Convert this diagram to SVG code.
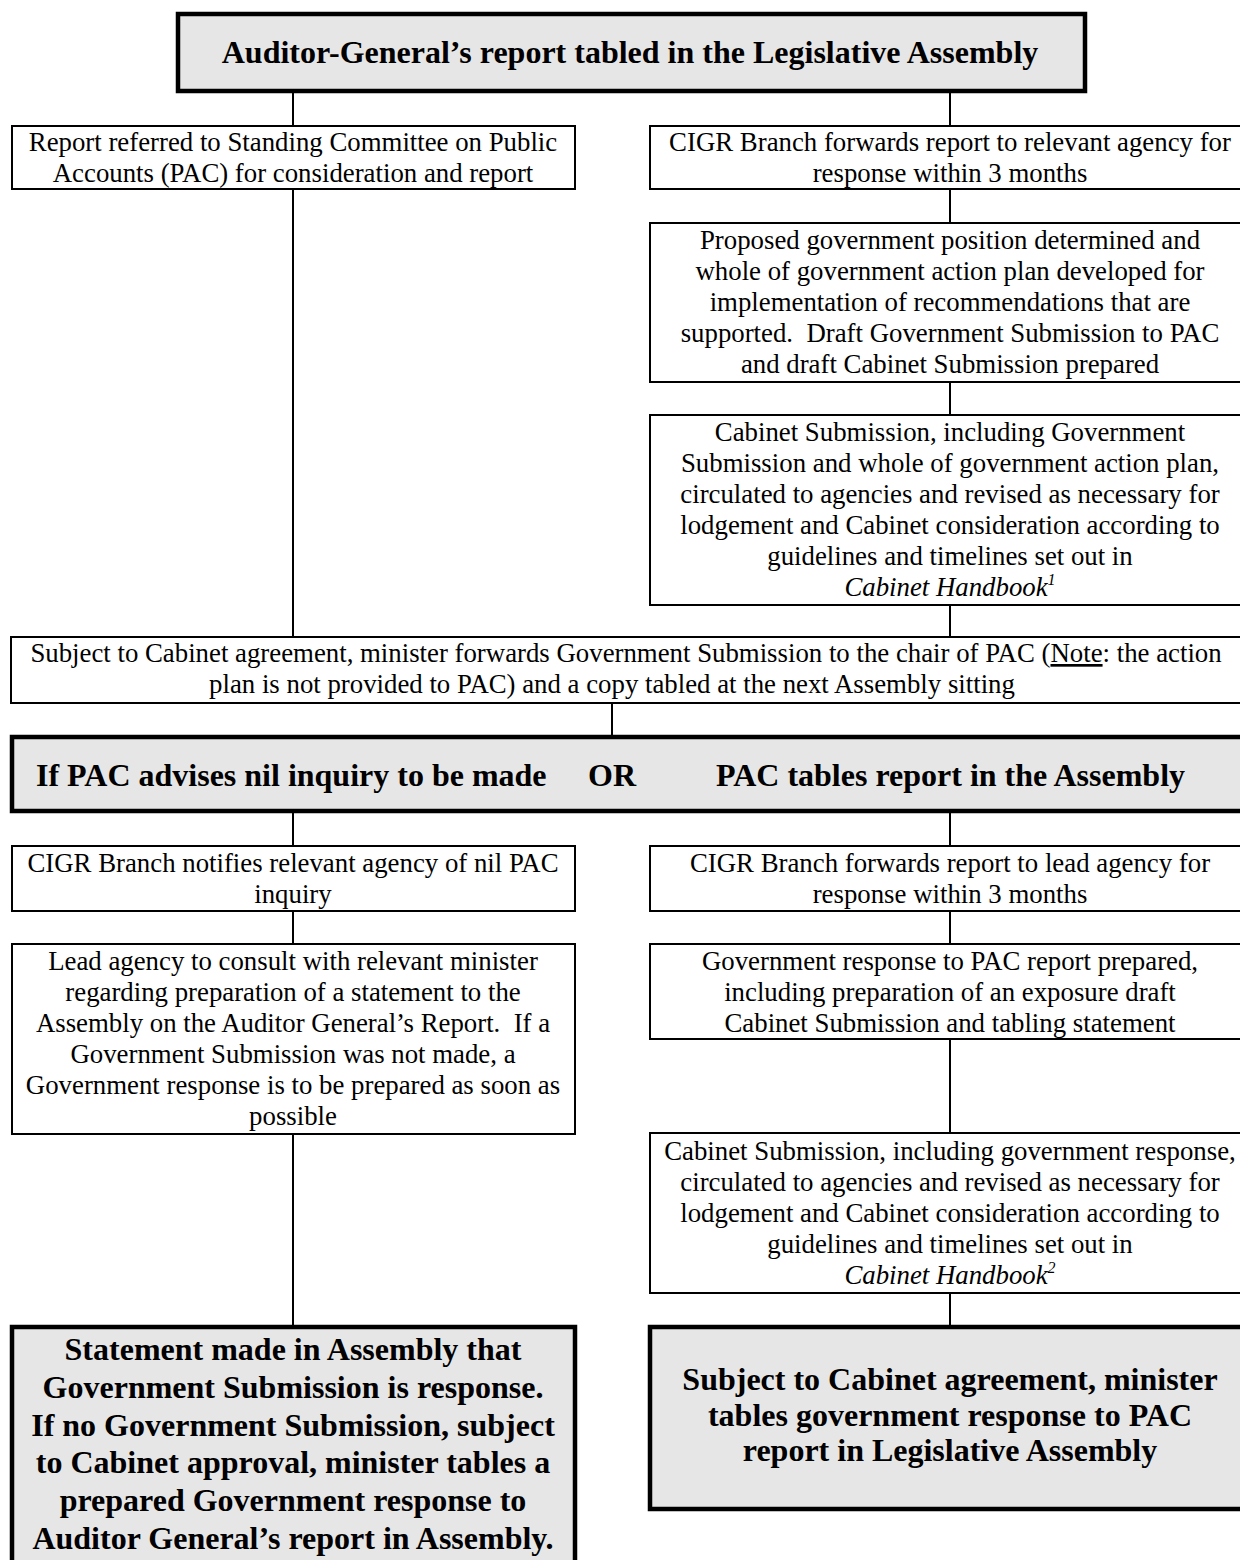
<svg xmlns="http://www.w3.org/2000/svg" width="1240" height="1560" viewBox="0 0 1240 1560">
<style>
.box{fill:#fff;stroke:#000;stroke-width:2}
.hbox{fill:#e6e6e6;stroke:#000;stroke-width:4.5}
.t{font-family:"Liberation Serif","Times New Roman",serif;font-size:26.8px;text-anchor:middle;fill:#000}
.b{font-weight:bold;font-size:32px}
.b2{font-weight:bold;font-size:32px}
.or{font-weight:bold;font-size:32px;text-anchor:start}
.i{font-style:italic}
.conn line{stroke:#000;stroke-width:2}
</style>
<rect width="1240" height="1560" fill="#fff"/>
<g class="conn" id="connectors">
<line x1="293" y1="91" x2="293" y2="126"/>
<line x1="950" y1="91" x2="950" y2="126"/>
<line x1="950" y1="189" x2="950" y2="223"/>
<line x1="950" y1="382" x2="950" y2="415"/>
<line x1="293" y1="189" x2="293" y2="637"/>
<line x1="950" y1="605" x2="950" y2="637"/>
<line x1="612" y1="703" x2="612" y2="737"/>
<line x1="293" y1="811" x2="293" y2="846"/>
<line x1="950" y1="811" x2="950" y2="846"/>
<line x1="293" y1="911" x2="293" y2="944"/>
<line x1="950" y1="911" x2="950" y2="944"/>
<line x1="950" y1="1039" x2="950" y2="1133"/>
<line x1="293" y1="1134" x2="293" y2="1327"/>
<line x1="950" y1="1293" x2="950" y2="1327"/>
</g>
<g id="n_top">
<rect class="hbox" x="178" y="14" width="907" height="77"/>
<text class="t b" x="630" y="63">Auditor-General’s report tabled in the Legislative Assembly</text>
</g>
<g id="n_pac_ref">
<rect class="box" x="12" y="126" width="563" height="63"/>
<text class="t" x="293" y="151">Report referred to Standing Committee on Public</text>
<text class="t" x="293" y="182">Accounts (PAC) for consideration and report</text>
</g>
<g id="n_cigr1">
<rect class="box" x="650" y="126" width="600" height="63"/>
<text class="t" x="950" y="151">CIGR Branch forwards report to relevant agency for</text>
<text class="t" x="950" y="182">response within 3 months</text>
</g>
<g id="n_position">
<rect class="box" x="650" y="223" width="600" height="159"/>
<text class="t" x="950" y="249">Proposed government position determined and</text>
<text class="t" x="950" y="280">whole of government action plan developed for</text>
<text class="t" x="950" y="311">implementation of recommendations that are</text>
<text class="t" x="950" y="342" xml:space="preserve">supported.  Draft Government Submission to PAC</text>
<text class="t" x="950" y="373">and draft Cabinet Submission prepared</text>
</g>
<g id="n_cabinet1">
<rect class="box" x="650" y="415" width="600" height="190"/>
<text class="t" x="950" y="441">Cabinet Submission, including Government</text>
<text class="t" x="950" y="472">Submission and whole of government action plan,</text>
<text class="t" x="950" y="503">circulated to agencies and revised as necessary for</text>
<text class="t" x="950" y="534">lodgement and Cabinet consideration according to</text>
<text class="t" x="950" y="565">guidelines and timelines set out in</text>
<text class="t i" x="950" y="596">Cabinet Handbook<tspan font-size="16" dy="-11">1</tspan></text>
</g>
<g id="n_forward">
<rect class="box" x="11" y="637" width="1240" height="66"/>
<text class="t" x="626" y="662">Subject to Cabinet agreement, minister forwards Government Submission to the chair of PAC (<tspan text-decoration="underline">Note</tspan>: the action</text>
<text class="t" x="612" y="693">plan is not provided to PAC) and a copy tabled at the next Assembly sitting</text>
</g>
<g id="n_or">
<rect class="hbox" x="12" y="737" width="1240" height="74"/>
<text class="t or" x="36" y="786">If PAC advises nil inquiry to be made</text>
<text class="t or" x="588" y="786">OR</text>
<text class="t or" x="716" y="786">PAC tables report in the Assembly</text>
</g>
<g id="n_nil">
<rect class="box" x="12" y="846" width="563" height="65"/>
<text class="t" x="293" y="872">CIGR Branch notifies relevant agency of nil PAC</text>
<text class="t" x="293" y="903">inquiry</text>
</g>
<g id="n_cigr2">
<rect class="box" x="650" y="846" width="600" height="65"/>
<text class="t" x="950" y="872">CIGR Branch forwards report to lead agency for</text>
<text class="t" x="950" y="903">response within 3 months</text>
</g>
<g id="n_lead">
<rect class="box" x="12" y="944" width="563" height="190"/>
<text class="t" x="293" y="970">Lead agency to consult with relevant minister</text>
<text class="t" x="293" y="1001">regarding preparation of a statement to the</text>
<text class="t" x="293" y="1032" xml:space="preserve">Assembly on the Auditor General’s Report.  If a</text>
<text class="t" x="293" y="1063">Government Submission was not made, a</text>
<text class="t" x="293" y="1094">Government response is to be prepared as soon as</text>
<text class="t" x="293" y="1125">possible</text>
</g>
<g id="n_gov_resp">
<rect class="box" x="650" y="944" width="600" height="95"/>
<text class="t" x="950" y="970">Government response to PAC report prepared,</text>
<text class="t" x="950" y="1001">including preparation of an exposure draft</text>
<text class="t" x="950" y="1032">Cabinet Submission and tabling statement</text>
</g>
<g id="n_cabinet2">
<rect class="box" x="650" y="1133" width="600" height="160"/>
<text class="t" x="950" y="1160">Cabinet Submission, including government response,</text>
<text class="t" x="950" y="1191">circulated to agencies and revised as necessary for</text>
<text class="t" x="950" y="1222">lodgement and Cabinet consideration according to</text>
<text class="t" x="950" y="1253">guidelines and timelines set out in</text>
<text class="t i" x="950" y="1284">Cabinet Handbook<tspan font-size="16" dy="-11">2</tspan></text>
</g>
<g id="n_statement">
<rect class="hbox" x="12" y="1327" width="563" height="260"/>
<text class="t b2" x="293" y="1360">Statement made in Assembly that</text>
<text class="t b2" x="293" y="1398">Government Submission is response.</text>
<text class="t b2" x="293" y="1436">If no Government Submission, subject</text>
<text class="t b2" x="293" y="1473">to Cabinet approval, minister tables a</text>
<text class="t b2" x="293" y="1511">prepared Government response to</text>
<text class="t b2" x="293" y="1549">Auditor General’s report in Assembly.</text>
</g>
<g id="n_tables">
<rect class="hbox" x="650" y="1327" width="600" height="182"/>
<text class="t b2" x="950" y="1390">Subject to Cabinet agreement, minister</text>
<text class="t b2" x="950" y="1426">tables government response to PAC</text>
<text class="t b2" x="950" y="1461">report in Legislative Assembly</text>
</g>
</svg>
